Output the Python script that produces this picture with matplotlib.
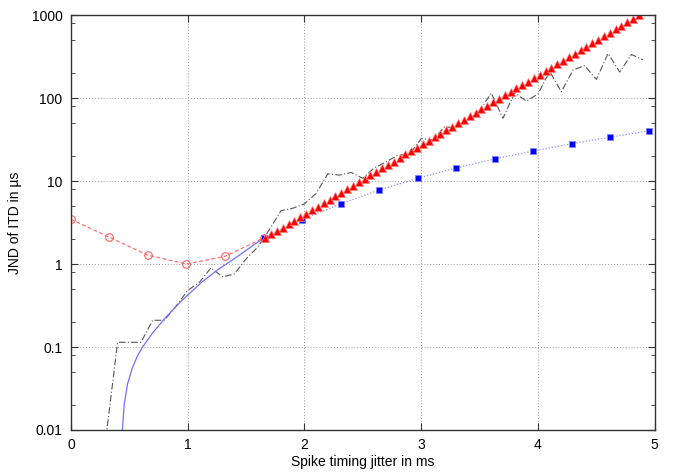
import numpy as np
import matplotlib
matplotlib.use("Agg")
import matplotlib.pyplot as plt
from matplotlib.ticker import LogLocator, NullFormatter

plt.rcParams['font.family'] = ['Liberation Sans', 'DejaVu Sans']

# red circles (dashed)
circ_x = [0.0, 0.33, 0.66, 0.99, 1.32, 1.65]
circ_y = [3.47, 2.10, 1.28, 1.00, 1.24, 2.06]

# blue squares (dotted)
sq_x = [1.65, 1.98, 2.31, 2.64, 2.97, 3.30, 3.63, 3.96, 4.29, 4.62, 4.95]
sq_y = [2.06, 3.44, 5.3, 7.8, 10.8, 14.4, 18.5, 23.0, 28.2, 33.8, 40.3]

# red triangles
tri_x = np.round(1.665 + 0.05 * np.arange(65), 3)
tri_y = [2.06, 2.27, 2.50, 2.75, 3.03, 3.34, 3.68, 4.05, 4.46, 4.91,
         5.41, 5.96, 6.56, 7.22, 7.96, 8.76, 9.65, 10.6, 11.7, 12.9,
         14.2, 15.6, 17.2, 19.0, 20.9, 23.0, 25.3, 27.9, 30.7, 33.8,
         37.2, 41.0, 45.2, 49.7, 54.8, 60.3, 66.4, 73.1, 80.6, 88.7,
         97.7, 108, 119, 131, 144, 158, 174, 192, 211, 233,
         256, 282, 311, 342, 377, 415, 457, 504, 555, 611,
         673, 741, 816, 899, 990]

# blue solid curve
curve_x = [0.440, 0.457, 0.485, 0.528, 0.570, 0.614, 0.700, 0.814, 0.943,
           1.128, 1.256, 1.414, 1.556, 1.650]
curve_y = [0.0095, 0.0205, 0.0358, 0.0569, 0.078, 0.100, 0.148, 0.229, 0.355,
           0.617, 0.85, 1.20, 1.66, 2.06]

# black dash-dot (jagged)
jit_x = np.round(np.arange(0.3, 4.95, 0.1), 2)
jit_y = [0.008, 0.114, 0.114, 0.114, 0.21, 0.21, 0.31, 0.48, 0.60, 0.90,
         0.70, 0.76, 1.15, 1.6, 2.6, 4.4, 4.7, 5.3, 7.1, 12.2,
         11.8, 12.7, 10.8, 14.5, 17.0, 20.5, 21.0, 32.5, 31.3, 45.0,
         44.0, 53.0, 70.0, 115, 57, 116, 92, 112, 210, 119,
         218, 246, 168, 345, 206, 335, 290]

fig = plt.figure(figsize=(6.75, 4.72), dpi=100)
ax = fig.add_axes([0.105, 0.089, 0.865, 0.879])

ax.plot(jit_x, jit_y, color='#555555', lw=0.8, dashes=(6, 2, 1, 2))
ax.plot(curve_x, curve_y, color='#7070ff', lw=0.9)
ax.plot(circ_x, circ_y, color='#ff7070', lw=0.9, ls=(0, (3, 2)),
        marker='o', mfc='none', mec='#ff6060', ms=5.5, mew=0.8)
ax.plot(sq_x, sq_y, color='#9090ff', lw=0.9, ls=(0, (1, 1.5)),
        marker='s', mfc='#0000ff', mec='#8080ff', ms=5, mew=0.6)
ax.plot(tri_x, tri_y, ls='none', marker='^', mfc='#ff0000',
        mec='#ff8080', ms=5.2, mew=0.5)

ax.set_yscale('log')
ax.set_xlim(0, 5)
ax.set_ylim(0.01, 1000)
ax.set_yticks([0.01, 0.1, 1, 10, 100, 1000])
ax.set_yticklabels(['0.01', '0.1', '1', '10', '100', '1000'])
ax.yaxis.set_minor_locator(LogLocator(base=10, subs=[2, 5, 8]))
ax.yaxis.set_minor_formatter(NullFormatter())
ax.set_xticks([0, 1, 2, 3, 4, 5])

ax.tick_params(which='both', direction='in', top=True, right=True,
               labelsize=10, color='#333333')
ax.tick_params(which='major', length=5, width=0.8, pad=6)
ax.tick_params(which='minor', length=3, width=0.6)
for s in ax.spines.values():
    s.set_color('#333333')
    s.set_linewidth(1.0)

ax.grid(True, which='major', color='#999999', ls=(0, (1, 2)), lw=0.7)

ax.set_xlabel('Spike timing jitter in ms', fontsize=10, labelpad=2)
ax.set_ylabel('JND of ITD in µs', fontsize=10, labelpad=7)

fig.savefig('out.png', dpi=100)
